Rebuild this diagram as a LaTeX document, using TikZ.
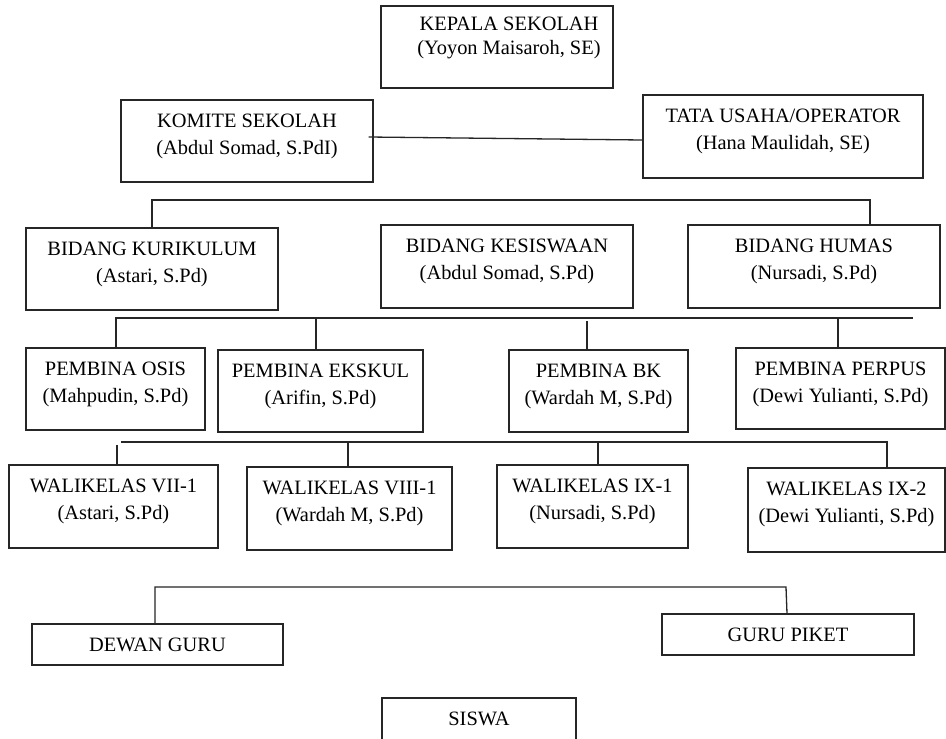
\documentclass[tikz,border=0pt]{standalone}
\usepackage{fontspec}
\setmainfont{Liberation Serif}
\usetikzlibrary{fit}
\tikzset{
  orgbox/.style={draw=black!85, line width=1.3pt, inner sep=0pt},
  orgtxt/.style={align=center, font=\fontsize{20.4}{26.5}\selectfont, inner sep=0pt, text=black},
  conn/.style={draw=black!85, line width=1.3pt},
}
\newcommand\obox[5]{\node[orgbox, fit={(#2,#3) (#4,#5)}] (#1) {};}
\begin{document}
\begin{tikzpicture}[x=1pt,y=-1pt]
\useasboundingbox (0,0) rectangle (946,739);
\fill[white] (0,0) rectangle (946,739);

% boxes
\obox{kep}{381}{6}{613}{88}
\obox{kom}{121}{100}{373}{182}
\obox{tu}{643}{95}{923}{178}
\obox{kur}{26}{228}{278}{310}
\obox{kes}{381}{225}{633}{308}
\obox{hum}{688}{225}{940}{308}
\obox{osis}{26}{348}{205}{430}
\obox{eks}{218}{350}{423}{432}
\obox{bk}{509}{350}{688}{432}
\obox{per}{736}{348}{945}{429}
\obox{wa}{9}{465}{218}{548}
\obox{wb}{247}{467}{452}{550}
\obox{wc}{497}{465}{688}{548}
\obox{wd}{748}{468}{945}{552}
\obox{dg}{32}{624}{283}{665}
\obox{gp}{662}{614}{914}{655}
\obox{sis}{382}{698}{576}{780}

% texts
\node[orgtxt] (kepT) at ([xshift=12pt,yshift=-33pt]kep.north) {KEPALA SEKOLAH\\[-2.5pt](Yoyon Maisaroh, SE)};
\node[orgtxt] (komT) at ([yshift=-37pt]kom.north) {KOMITE SEKOLAH\\(Abdul Somad, S.PdI)};
\node[orgtxt] (tuT) at ([yshift=-37pt]tu.north) {TATA USAHA/OPERATOR\\(Hana Maulidah, SE)};
\node[orgtxt] (kurT) at ([yshift=-37pt]kur.north) {BIDANG KURIKULUM\\(Astari, S.Pd)};
\node[orgtxt] (kesT) at ([yshift=-37pt]kes.north) {BIDANG KESISWAAN\\(Abdul Somad, S.Pd)};
\node[orgtxt] (humT) at ([yshift=-37pt]hum.north) {BIDANG HUMAS\\(Nursadi, S.Pd)};
\node[orgtxt] (osisT) at ([yshift=-37pt]osis.north) {PEMBINA OSIS\\(Mahpudin, S.Pd)};
\node[orgtxt] (eksT) at ([yshift=-37pt]eks.north) {PEMBINA EKSKUL\\(Arifin, S.Pd)};
\node[orgtxt] (bkT) at ([yshift=-37pt]bk.north) {PEMBINA BK\\(Wardah M, S.Pd)};
\node[orgtxt] (perT) at ([yshift=-37pt]per.north) {PEMBINA PERPUS\\(Dewi Yulianti, S.Pd)};
\node[orgtxt] (waT) at ([yshift=-37pt]wa.north) {WALIKELAS VII-1\\(Astari, S.Pd)};
\node[orgtxt] (wbT) at ([yshift=-37pt]wb.north) {WALIKELAS VIII-1\\(Wardah M, S.Pd)};
\node[orgtxt] (wcT) at ([yshift=-37pt]wc.north) {WALIKELAS IX-1\\(Nursadi, S.Pd)};
\node[orgtxt] (wdT) at ([yshift=-37pt]wd.north) {WALIKELAS IX-2\\(Dewi Yulianti, S.Pd)};
\node[orgtxt] (dgT) at (dg.center) {DEWAN GURU};
\node[orgtxt] (gpT) at (gp.center) {GURU PIKET};
\node[orgtxt] (sisT) at ([yshift=-22pt]sis.north) {SISWA};

% connectors
\draw[conn] ([xshift=-5pt,yshift=4pt]kom.east) -- ([yshift=-3.5pt]tu.west);

\coordinate (a1) at (152,200);
\coordinate (a2) at (870,200);
\draw[conn] (a1 |- kur.north) -- (a1) -- (a2) -- (a2 |- hum.north);

\coordinate (b1) at (116,318);
\coordinate (b2) at (913,318);
\coordinate (b3) at (316,318);
\coordinate (b4) at (587,321);
\coordinate (b5) at (838,318);
\draw[conn] (b1 |- osis.north) -- (b1) -- (b2);
\draw[conn] (b3) -- (b3 |- eks.north);
\draw[conn] (b4) -- (b4 |- bk.north);
\draw[conn] (b5) -- (b5 |- per.north);

\coordinate (c1) at (121,442);
\coordinate (c2) at (888,442);
\coordinate (c3) at (117,445);
\coordinate (c4) at (348,442);
\coordinate (c5) at (598,442);
\coordinate (c6) at (887,442);
\draw[conn] (c1) -- (c2);
\draw[conn] (c3) -- (c3 |- wa.north);
\draw[conn] (c4) -- (c4 |- wb.north);
\draw[conn] (c5) -- (c5 |- wc.north);
\draw[conn] (c6) -- (c6 |- wd.north);

\coordinate (d1) at (155,587);
\coordinate (d2) at (786,587);
\draw[conn] (d1 |- dg.north) -- (d1) -- (d2) -- ([xshift=1pt]d2 |- gp.north);
\end{tikzpicture}
\end{document}
